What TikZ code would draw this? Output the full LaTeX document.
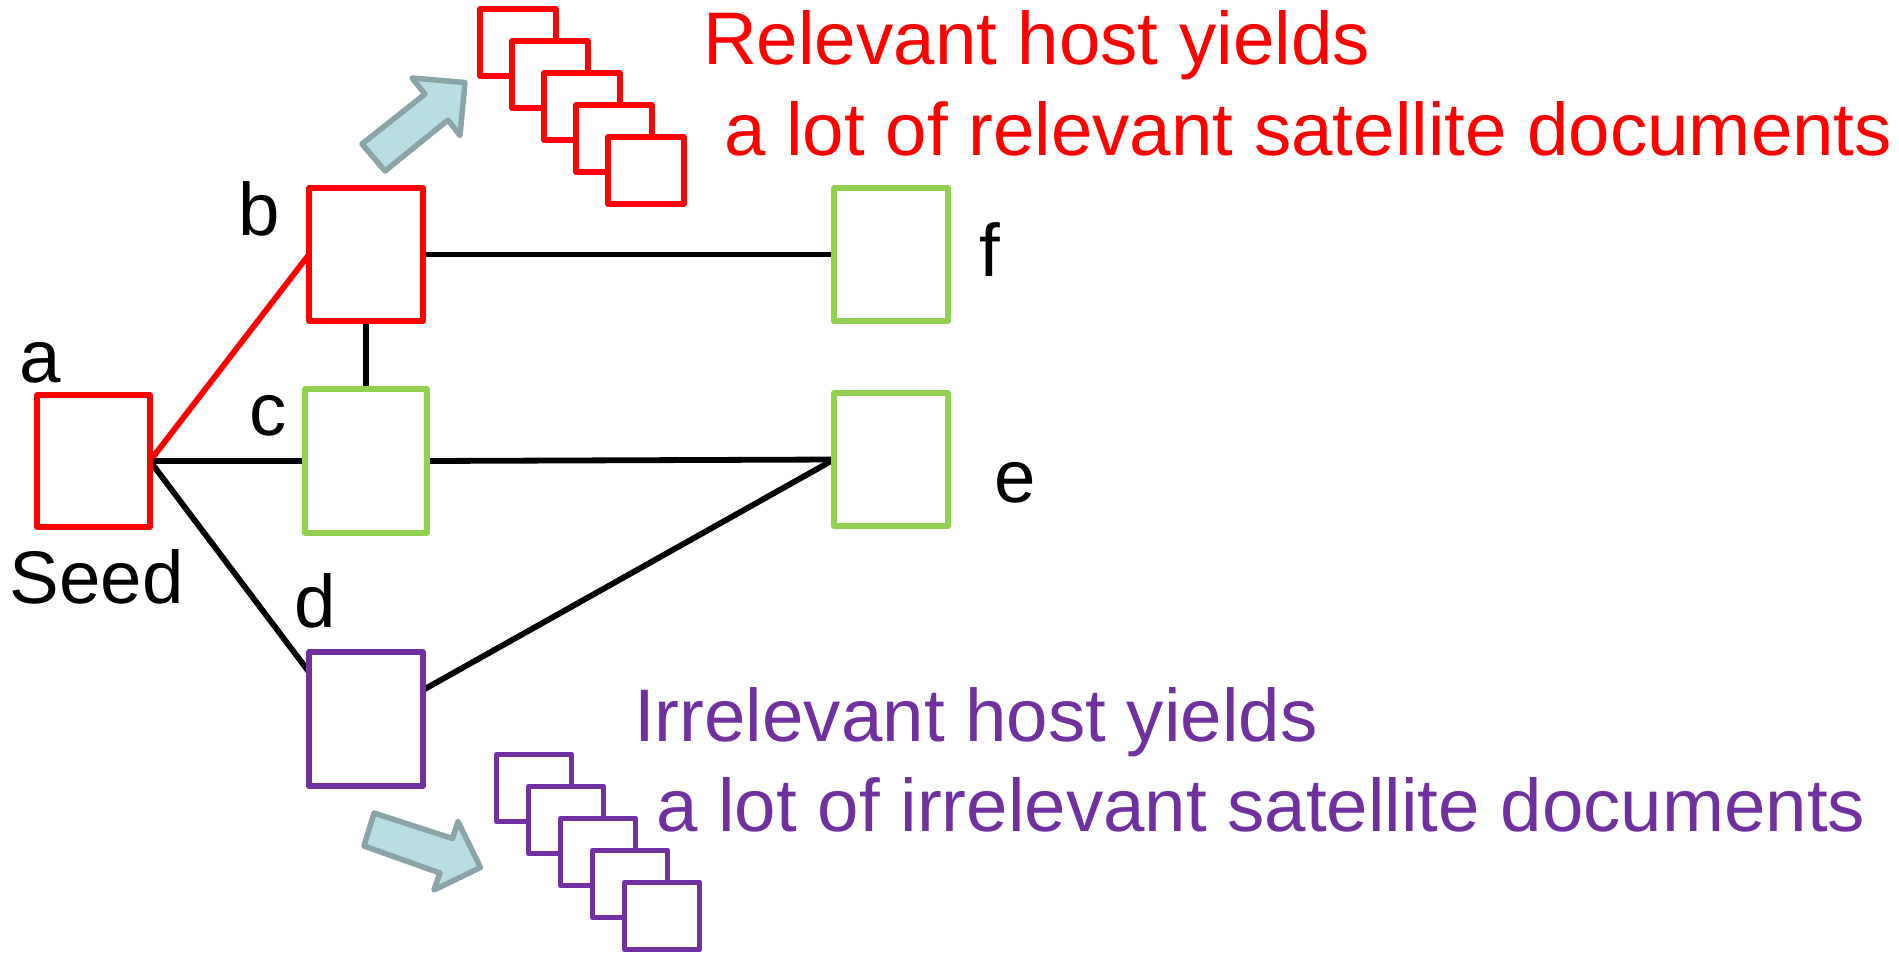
\documentclass[tikz,border=0pt]{standalone}
\usepackage{fontspec}
\setmainfont{Liberation Sans}
\usetikzlibrary{calc}
\definecolor{hostred}{RGB}{255,0,0}
\definecolor{hostgreen}{RGB}{146,208,80}
\definecolor{hostpurple}{RGB}{112,48,160}
\definecolor{arrowfill}{RGB}{183,222,227}
\definecolor{arrowedge}{RGB}{138,164,168}
\pgfdeclarelayer{background}
\pgfsetlayers{background,main}
\begin{document}
\begin{tikzpicture}[x=1pt,y=-1pt,
  host/.style={draw, line width=5.5pt, line join=round, fill=white,
    inner sep=0pt, outer sep=0pt, minimum width=114pt, minimum height=133pt},
  sat/.style={host, minimum width=76pt, minimum height=67pt},
  link/.style={line width=5.8pt, draw=black},
  lbl/.style={inner sep=0pt, anchor=base west, font=\fontsize{74.5}{90}\selectfont},
  bigarrow/.style={fill=arrowfill, draw=arrowedge, line width=5.5pt, line join=round}]
\useasboundingbox (0,0) rectangle (1899,954);

% hosts
\node[host, draw=hostred, minimum width=113pt, minimum height=132pt] (a) at (93.5,461) {};
\node[host, draw=hostred] (b) at (366,254.5) {};
\node[host, draw=hostgreen, minimum width=122pt, minimum height=144pt] (c) at (366,461) {};
\node[host, draw=hostpurple, minimum height=134pt] (d) at (366,719) {};
\node[host, draw=hostgreen] (e) at (891,459.5) {};
\node[host, draw=hostgreen] (f) at (891,254.5) {};

% host labels
\node[lbl] (la) at (19,382) {a};
\node[lbl] (lb) at (238,235) {b};
\node[lbl] (lc) at (249,435) {c};
\node[lbl] (ld) at (294.5,627) {d};
\node[lbl] (le) at (994,502) {e};
\node[lbl] (lf) at (979,276) {f};
\node[lbl] (seed) at (9.6,603) {Seed};

% links between hosts
\begin{pgfonlayer}{background}
  \draw[link, draw=hostred] (a.east) -- (b.west);
  \draw[link] (a.east) -- (c.west);
  \draw[link] (a.east) -- ($(d.north west)+(0,20)$);
  \draw[link] (b.south) -- (c.north);
  \draw[link] (b.east) -- (f.west);
  \draw[link] (c.east) -- (e.west);
  \draw[link] ($(d.north east)+(0,38)$) -- (e.west);
\end{pgfonlayer}

% satellite documents of the relevant host
\foreach \i in {1,...,5}
  \node[sat, draw=hostred] (r\i) at ({518+32*(\i-1)},{42.5+32*(\i-1)}) {};
% satellite documents of the irrelevant host
\foreach \i in {1,...,5}
  \node[sat, draw=hostpurple, minimum width=75pt] (p\i) at ({534+32*(\i-1)},{788+32*(\i-1)}) {};

% block arrows
\draw[bigarrow] (362,144) -- (425,94) -- (412,78) -- (465,82.5) -- (460,135.5)
  -- (448,120) -- (385,171) -- cycle;
\draw[bigarrow] (374,813) -- (452.5,838.5) -- (458,821.5) -- (480.5,867.5)
  -- (434,890) -- (440,873) -- (364,846) -- cycle;

% captions
\node[lbl, text=hostred] (rel1) at (703,64) {Relevant host yields};
\node[lbl, text=hostred] (rel2) at (724,155) {a lot of relevant satellite documents};
\node[lbl, text=hostpurple] (irr1) at (634,741) {Irrelevant host yields};
\node[lbl, text=hostpurple] (irr2) at (656,831) {a lot of irrelevant satellite documents};
\end{tikzpicture}
\end{document}
